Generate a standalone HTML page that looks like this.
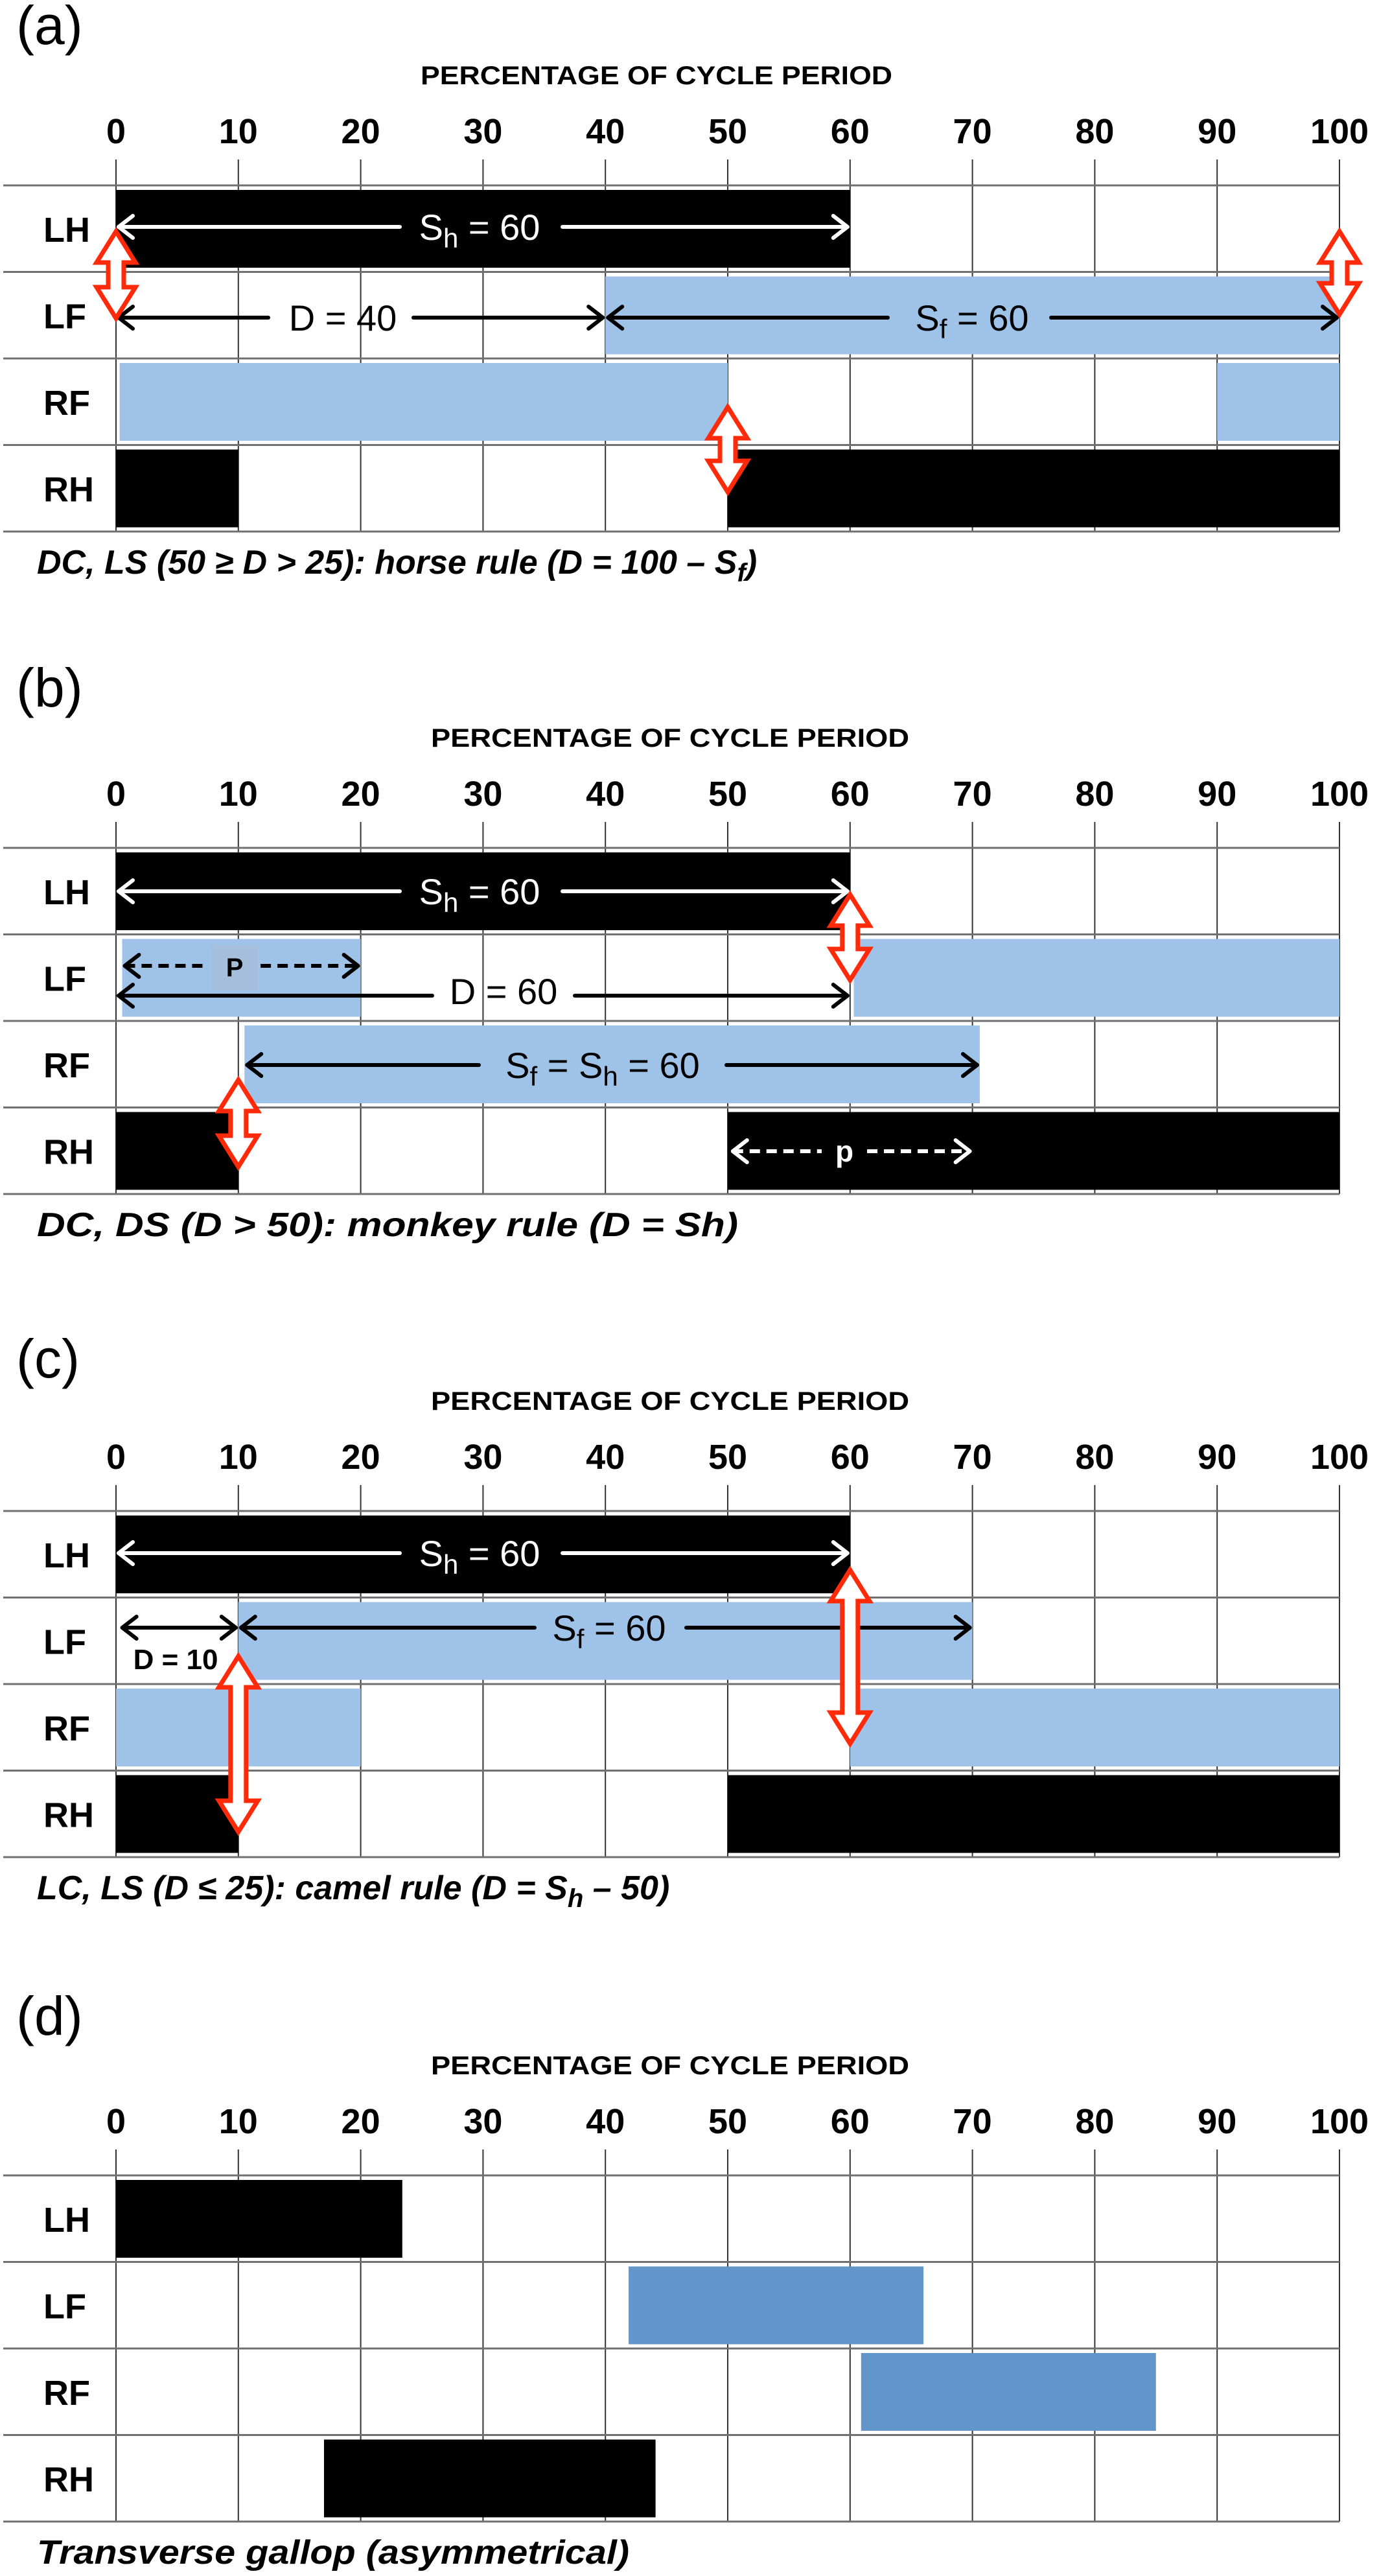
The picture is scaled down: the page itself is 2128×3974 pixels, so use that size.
<!DOCTYPE html>
<html><head><meta charset="utf-8">
<style>
html,body{margin:0;padding:0;background:#fff;}
svg{display:block;}
text{font-family:"Liberation Sans",sans-serif;}
</style></head>
<body>
<svg id="fig" xmlns="http://www.w3.org/2000/svg" width="2128" height="3974" viewBox="0 0 2128 3974"></svg>
<script>
// ---- data ----
const panelLetters = ["(a)", "(b)", "(c)", "(d)"];
const limbNames = ["LH", "LF", "RF", "RH"];
const tickValues = [0, 10, 20, 30, 40, 50, 60, 70, 80, 90, 100];
const captions = [
  "DC, LS (50 \u2265 D > 25): horse rule (D = 100 \u2013 S",
  "DC, DS (D > 50): monkey rule (D = Sh)",
  "LC, LS (D \u2264 25): camel rule (D = S",
  "Transverse gallop (asymmetrical)"
];
// bars: panel index, limb row, start %, end %, kind
const barPanel = [0,0,0,0,0,0,0, 1,1,1,1,1,1, 2,2,2,2,2,2, 3,3,3,3];
const barRow   = [0,1,2,2,3,3,0, 0,1,1,2,3,3, 0,1,2,2,3,3, 0,1,2,3];
const barStart = [0,40,0.3,90,0,50,0, 0,0.5,60.3,10.5,0,50, 0,10,0,60,0,50, 0,41.9,60.9,17.0];
const barEnd   = [60,100,50,100,10,100,0, 60,20,100,70.6,10,100, 60,70,20,100,10,100, 23.4,66.0,85.0,44.1];
const barKind  = ["h","f","f","f","h","h","h", "h","f","f","f","h","h", "h","f","f","f","h","h", "h","g","g","h"];
// red phase arrows: panel, x %, top y, bottom y (relative to panel)
const redPanel = [0,0,0,1,1,2,2];
const redX     = [0,100,50,60,10,60,10];
const redTop   = [357,357,628,358,644,377,510];
const redBot   = [491,485,759,490,778,645,781];

// ---- geometry ----
const panelY = [0,1022,2045,3070];
const letterY = [68,1090,2125,3139];
const X0 = 179, PCT = 18.88;
function X(p){ return X0 + p*PCT; }
function rowTop(pi, r){ return panelY[pi] + 286 + r*133.5; }
const NS = "http://www.w3.org/2000/svg";
const svg = document.getElementById("fig");
function mk(tag, attrs, parent){
  const e = document.createElementNS(NS, tag);
  for (const k in attrs) e.setAttribute(k, attrs[k]);
  (parent||svg).appendChild(e);
  return e;
}
const colors = {h:"#000000", f:"#9fc2e8", g:"#6295c9"};

function txt(x, y, s, size, opts, parent){
  const t = mk("text", Object.assign({x:x, y:y, "font-size":size, fill:"#000"}, opts||{}), parent);
  t.textContent = s;
  return t;
}

for (let pi = 0; pi < 4; pi++){
  const py = panelY[pi];
  const g = mk("g", {});
  
  

  const lt = txt(25, letterY[pi], panelLetters[pi], 84, {}, g);
  
  

  const tt = txt(pi===0?1013:1034, py+130, "PERCENTAGE OF CYCLE PERIOD", 40, {"font-weight":"bold","text-anchor":"middle", textLength: pi===0?728:738, lengthAdjust:"spacingAndGlyphs"}, g);
  
  

  tickValues.forEach(v => {
    const tk = txt(X(v), py+221, String(v), 54, {"font-weight":"bold","text-anchor":"middle"}, g);
    
    
    const gl = mk("line", {x1:X(v), x2:X(v), y1:py+246, y2:rowTop(pi,4), stroke:"#333", "stroke-width":2}, g);
    
    
  });
  for (let r = 0; r <= 4; r++){
    const hl = mk("line", {x1:5, x2:X(100), y1:rowTop(pi,r), y2:rowTop(pi,r), stroke:"#707070", "stroke-width":3}, g);
    
    
  }
  limbNames.forEach((n, r) => {
    const rl = txt(67, rowTop(pi,r)+87, n, 54, {"font-weight":"bold"}, g);
    
    
  });
}

// bars
for (let i = 0; i < barPanel.length; i++){
  if (barEnd[i] <= barStart[i]) continue;
  const pi = barPanel[i], r = barRow[i];
  const b = mk("rect", {x:X(barStart[i]), y:rowTop(pi,r)+7, width:X(barEnd[i])-X(barStart[i]), height:120, fill:colors[barKind[i]]});
  
  
}

// horizontal annotation arrow
function hArrow(y, p1, p2, gap1, gap2, color, dashed, headL, headR, name){
  const g = mk("g", {stroke:color, "stroke-width":6, fill:"none", "stroke-linecap":"round", "stroke-linejoin":"round"});
  
  
  const x1 = X(p1)+4, x2 = X(p2)-4;
  const da = dashed ? {"stroke-dasharray":"16 10","stroke-linecap":"butt"} : {};
  if (gap1 != null){
    mk("line", Object.assign({x1:x1, y1:y, x2:gap1, y2:y}, da), g);
    mk("line", Object.assign({x1:gap2, y1:y, x2:x2, y2:y}, da), g);
  } else {
    mk("line", Object.assign({x1:x1, y1:y, x2:x2, y2:y}, da), g);
  }
  if (headL) mk("polyline", {points:`${x1+22},${y-17} ${x1},${y} ${x1+22},${y+17}`}, g);
  if (headR) mk("polyline", {points:`${x2-22},${y-17} ${x2},${y} ${x2-22},${y+17}`}, g);
}
function label(x, y, parts, size, color, name, bold){
  const t = mk("text", {x:x, y:y, "font-size":size, fill:color, "text-anchor":"middle", "font-family":"'Liberation Sans Narrow','Liberation Sans',sans-serif", "font-weight":bold?"bold":"normal"});
  
  
  parts.forEach(p => {
    const s = document.createElementNS(NS, "tspan");
    if (p[1]) { s.setAttribute("dy", "12"); s.setAttribute("font-size", size*0.75); }
    else if (p[2]) { s.setAttribute("dy", "-12"); }
    s.textContent = p[0];
    t.appendChild(s);
  });
  return t;
}

// panel (a)
let P = panelY[0];
hArrow(P+350, 0, 60, 617, 868, "#fff", false, true, true, "stance-arrow-sh");
label(740, P+370, [["S"],["h",1],[" = 60",0,1]], 56, "#fff", "sh-label");
hArrow(P+490, 0, 40, 414, 638, "#000", false, true, true, "duty-arrow-d");
label(529, P+510, [["D = 40"]], 56, "#000", "d-label");
hArrow(P+490, 40, 100, 1370, 1622, "#000", false, true, true, "stance-arrow-sf");
label(1500, P+510, [["S"],["f",1],[" = 60",0,1]], 56, "#000", "sf-label");

// panel (b)
P = panelY[1];
hArrow(P+353, 0, 60, 617, 868, "#fff", false, true, true, "stance-arrow-sh");
label(740, P+373, [["S"],["h",1],[" = 60",0,1]], 56, "#fff", "sh-label");
mk("rect", {x:X(9.7)-35, y:P+436, width:70, height:70, fill:"#a5bedb"});
hArrow(P+468, 0.5, 20, X(9.7)-40, X(9.7)+40, "#000", true, true, true, "period-arrow-p");
label(X(9.7), P+484, [["P"]], 40, "#000", "p-label", true);
hArrow(P+514, 0, 60, 667, 887, "#000", false, true, true, "duty-arrow-d");
label(777, P+527, [["D = 60"]], 56, "#000", "d-label");
hArrow(P+621, 10.5, 70.6, 739, 1121, "#000", false, true, true, "stance-arrow-sf");
label(930, P+641, [["S"],["f",1],[" = S",0,1],["h",1],[" = 60",0,1]], 56, "#000", "sf-sh-label");
hArrow(P+754, 50.2, 70, 1268, 1338, "#fff", true, true, true, "period-arrow-p-hind");
label(1303, P+770, [["p"]], 46, "#fff", "p-hind-label", true);

// panel (c)
P = panelY[2];
hArrow(P+351, 0, 60, 617, 868, "#fff", false, true, true, "stance-arrow-sh");
label(740, P+371, [["S"],["h",1],[" = 60",0,1]], 56, "#fff", "sh-label");
hArrow(P+466, 0.3, 10, null, null, "#000", false, true, true, "duty-arrow-d");
label(271, P+530, [["D = 10"]], 44, "#000", "d-label", true);
hArrow(P+466, 10, 70, 825, 1059, "#000", false, true, true, "stance-arrow-sf");
label(940, P+486, [["S"],["f",1],[" = 60",0,1]], 56, "#000", "sf-label");

// red phase arrows
for (let i = 0; i < redPanel.length; i++){
  const x = X(redX[i]), y1 = panelY[redPanel[i]] + redTop[i], y2 = panelY[redPanel[i]] + redBot[i];
  const hw = 30, hl = 48, sw = 12;
  const pts = [[x,y1],[x+hw,y1+hl],[x+sw,y1+hl],[x+sw,y2-hl],[x+hw,y2-hl],[x,y2],[x-hw,y2-hl],[x-sw,y2-hl],[x-sw,y1+hl],[x-hw,y1+hl]];
  const pg = mk("polygon", {points:pts.map(p=>p.join(",")).join(" "), fill:"#fff", stroke:"#ff2a0a", "stroke-width":7, "stroke-linejoin":"miter"});
  
  
}

// captions
const capLen = [1246, 1082, 1150, 914];
for (let pi = 0; pi < 4; pi++){
  const t = mk("text", {x:57, y:panelY[pi]+885, "font-size":52, "font-weight":"bold", "font-style":"italic", fill:"#000", textLength:capLen[pi], lengthAdjust:"spacingAndGlyphs"});
  
  
  if (pi === 0){
    t.removeAttribute("textLength");
    t.appendChild(document.createTextNode(captions[0]));
    const s = document.createElementNS(NS, "tspan"); s.setAttribute("dy","12"); s.setAttribute("font-size","40"); s.textContent = "f";
    t.appendChild(s);
    const s2 = document.createElementNS(NS, "tspan"); s2.setAttribute("dy","-12"); s2.textContent = ")";
    t.appendChild(s2);
  } else if (pi === 2){
    t.removeAttribute("textLength");
    t.appendChild(document.createTextNode(captions[2]));
    const s = document.createElementNS(NS, "tspan"); s.setAttribute("dy","12"); s.setAttribute("font-size","40"); s.textContent = "h";
    t.appendChild(s);
    const s2 = document.createElementNS(NS, "tspan"); s2.setAttribute("dy","-12"); s2.textContent = " \u2013 50)";
    t.appendChild(s2);
  } else {
    t.textContent = captions[pi];
  }
}
</script>
</body></html>
